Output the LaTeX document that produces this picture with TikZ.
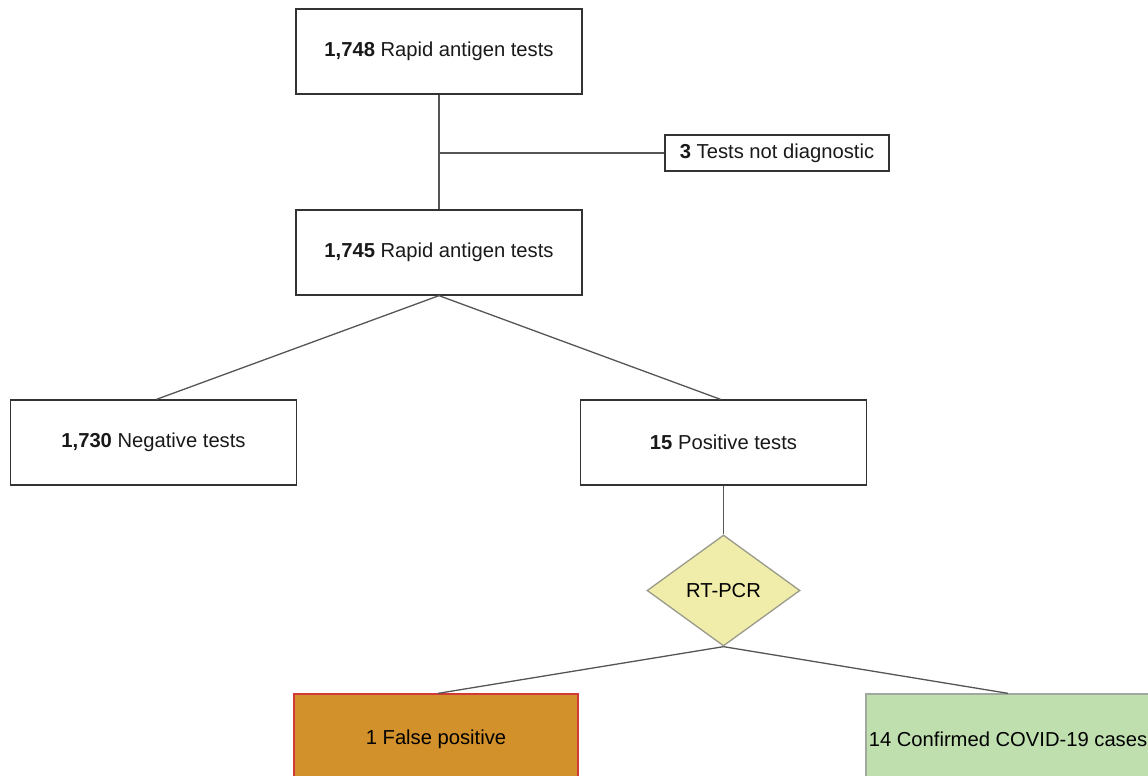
\documentclass[tikz,border=0pt]{standalone}
\usepackage{fontspec}
\setmainfont{Liberation Sans}
\usetikzlibrary{shapes.geometric}
\definecolor{linec}{HTML}{555555}
\definecolor{boxc}{HTML}{333333}
\definecolor{diafill}{HTML}{F0EDAB}
\definecolor{diaborder}{HTML}{9A9A8A}
\definecolor{fpfill}{HTML}{D2912A}
\definecolor{fpborder}{HTML}{D23A3A}
\definecolor{cfill}{HTML}{BFDFAF}
\definecolor{cborder}{HTML}{A0A8A0}
\tikzset{
  box/.style={draw=boxc, line width=1.3pt, fill=white, rectangle, inner sep=0pt,
    minimum width=286pt, minimum height=85pt, font=\fontsize{20.2}{23}\selectfont, text=black!90},
  smallbox/.style={box, minimum width=224pt, minimum height=36pt},
  decision/.style={diamond, draw=diaborder, line width=1.3pt, fill=diafill, inner sep=0pt,
    minimum width=153pt, minimum height=111pt, font=\fontsize{20.2}{23}\selectfont},
  outbox/.style={rectangle, line width=1.3pt, inner sep=0pt, minimum width=284pt,
    minimum height=90pt, font=\fontsize{20.2}{23}\selectfont},
  conn/.style={draw=linec, line width=1.3pt}
}
\begin{document}
\begin{tikzpicture}[x=1pt,y=-1pt]
\useasboundingbox (0,0) rectangle (1148,776);
\clip (0,0) rectangle (1148,776);
\node[box] (top) at (439,51.5) {\textbf{1,748} Rapid antigen tests};
\node[smallbox] (nd) at (777,153) {\textbf{3} Tests not diagnostic};
\node[box] (mid) at (439,252.5) {\textbf{1,745} Rapid antigen tests};
\node[box] (neg) at (153.5,442.5) {\textbf{1,730} Negative tests};
\node[box] (pos) at (723.5,442.5) {\textbf{15} Positive tests};
\node[decision] (pcr) at (723.5,590.5) {RT-PCR};
\node[outbox, draw=fpborder, fill=fpfill] (fp) at (436,739) {1 False positive};
\node[outbox, draw=cborder, fill=cfill] (conf) at (1008,739) {14 Confirmed COVID-19 cases};
\coordinate (br) at (439,153);
\draw[conn] (top.south) -- (mid.north);
\draw[conn] (br) -- (nd.west);
\draw[conn] (mid.south) -- ([xshift=3pt]neg.north);
\draw[conn] (mid.south) -- ([xshift=-3pt]pos.north);
\draw[conn] (pos.south) -- (pcr.north);
\draw[conn] (pcr.south) -- ([xshift=2pt]fp.north);
\draw[conn] (pcr.south) -- (conf.north);
\end{tikzpicture}
\end{document}
